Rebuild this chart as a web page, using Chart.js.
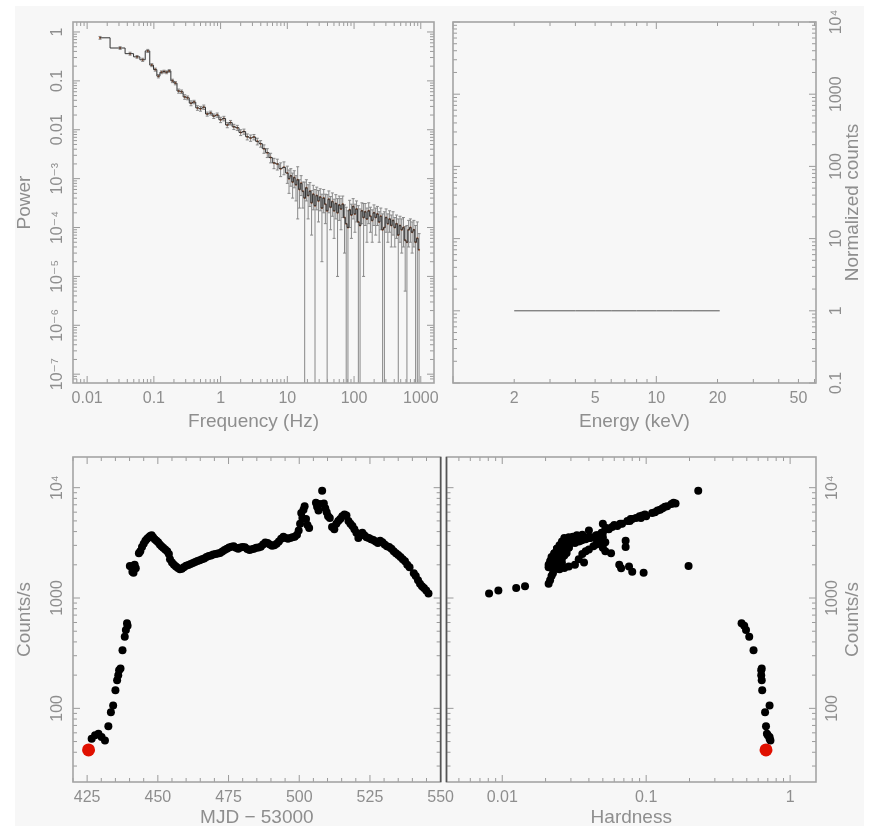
<!DOCTYPE html>
<html>
<head>
<meta charset="utf-8">
<script src="https://cdn.jsdelivr.net/npm/chart.js@4.4.1/dist/chart.umd.min.js"></script>
<style>
  html, body { margin: 0; padding: 0; background: #fff; overflow: hidden; }
  #sheet { position: absolute; left: 15px; top: 6px; width: 849px; height: 820px; background: #f7f7f7; }
  canvas { position: absolute; }
</style>
</head>
<body>
<div id="sheet"></div>
<canvas id="pds" width="440" height="440" style="left:0;top:0"></canvas>
<canvas id="spec" width="430" height="440" style="left:440px;top:0"></canvas>
<canvas id="lc" width="460" height="400" style="left:0;top:440px"></canvas>
<canvas id="hid" width="430" height="400" style="left:440px;top:440px"></canvas>
<script>
// power spectrum (top left)
const freqHz = [
  0.0156, 0.0312, 0.044, 0.056, 0.068, 0.081, 0.093, 0.105, 0.117, 0.13,
  0.142, 0.155, 0.17, 0.19, 0.21, 0.235, 0.26, 0.29, 0.32, 0.36,
  0.40, 0.45, 0.50, 0.56, 0.63, 0.71, 0.79, 0.89, 1.0, 1.12,
  1.26, 1.41, 1.58, 1.78, 2.0, 2.24, 2.51, 2.82, 3.16, 3.55,
  3.98, 4.47, 5.01, 5.62, 6.31, 7.08, 7.94, 8.91,
  10.0, 10.6, 11.3, 12.0, 12.7, 13.5, 14.3, 15.2, 16.1, 17.1,
  18.2, 19.3, 20.5, 21.8, 23.1, 24.5, 26.0, 27.6, 29.3, 31.1,
  33.0, 35.1, 37.2, 39.5, 41.9, 44.5, 47.3, 50.2, 53.3, 56.6,
  60.1, 63.8, 67.7, 71.9, 76.3, 81.0, 86.0, 91.3, 97.0, 103,
  109, 116, 123, 131, 139, 147, 156, 166, 176, 187,
  199, 211, 224, 238, 252, 268, 285, 302, 321, 341,
  362, 384, 408, 433, 460, 488, 518, 550, 584, 620,
  658, 699, 742, 788, 837, 888, 943
];
const power = [
  0.76, 0.47, 0.36, 0.31, 0.27, 0.41, 0.21, 0.17, 0.125, 0.15,
  0.155, 0.15, 0.16, 0.10, 0.09, 0.062, 0.06, 0.047, 0.045, 0.035,
  0.037, 0.028, 0.027, 0.029, 0.021, 0.022, 0.019, 0.020, 0.016, 0.017,
  0.0125, 0.014, 0.0115, 0.011, 0.0088, 0.0092, 0.0072, 0.0068, 0.0071, 0.0058,
  0.0052, 0.0041, 0.0034, 0.0027, 0.0021, 0.0020, 0.0016, 0.0017,
  0.0013, 0.001, 0.00115, 0.00085, 0.00105, 0.00075, 0.00095, 0.0006, 0.0008, 0.00055,
  0.0004, 0.00065, 0.00045, 0.00055, 0.00032, 0.00048, 0.00028, 0.00045, 0.00035, 0.00042,
  0.00025, 0.0004, 0.0003, 0.00022, 0.00038, 0.00026, 0.00034, 0.00022, 0.00031, 0.0002,
  0.00029, 0.00024, 0.0003, 0.00016, 0.00012, 0.0001, 0.00023, 0.00018, 0.00027, 0.00019,
  0.00024, 0.00013, 0.00011, 0.00022, 0.00016, 0.00021, 0.00015, 0.00022, 0.00017, 0.00014,
  0.0002, 0.00016, 0.00019, 0.00013, 0.00017, 0.00009, 0.0001, 0.00016, 0.00012, 0.00015,
  0.00011, 0.00014, 0.0001, 0.00012, 0.00007, 0.00011, 0.00009, 0.0001, 0.000055, 0.00005,
  0.00009, 0.0001, 0.00008, 0.00009, 0.00005, 0.00006, 0.000035
];
const powerErr = [
  0.05, 0.03, 0.025, 0.02, 0.02, 0.03, 0.015, 0.012, 0.01, 0.01,
  0.01, 0.01, 0.01, 0.008, 0.007, 0.006, 0.005, 0.005, 0.004, 0.004,
  0.003, 0.003, 0.003, 0.003, 0.002, 0.002, 0.002, 0.002, 0.002, 0.0018,
  0.0015, 0.0015, 0.0014, 0.0013, 0.0012, 0.0011, 0.001, 0.001, 0.0009, 0.0009,
  0.0008, 0.0008, 0.0007, 0.0006, 0.0005, 0.0005, 0.0005, 0.0005,
  0.0005, 0.0005, 0.00045, 0.00045, 0.0004, 0.0004, 0.0008, 0.00035, 0.00035, 0.0003,
  0.00045, 0.0003, 0.0003, 0.00028, 0.00025, 0.00025, 0.00032, 0.00022, 0.00022, 0.0002,
  0.00023, 0.0002, 0.00018, 0.00025, 0.00018, 0.00017, 0.00017, 0.00016, 0.00016, 0.00019,
  0.00015, 0.00015, 0.00014, 0.00013, 0.00014, 0.00012, 0.00013, 0.00012, 0.00012, 0.00011,
  0.00011, 0.00015, 0.00013, 0.0001, 0.00015, 0.0001, 0.0001, 0.0001, 0.00009, 0.00009,
  0.00009, 0.00009, 0.00008, 0.00008, 0.00008, 0.0001, 0.00011, 0.00008, 0.00007, 0.00007,
  0.00007, 0.00007, 0.00006, 0.00006, 0.00008, 0.00006, 0.00006, 0.00006, 0.00005, 0.00006,
  0.00005, 0.00005, 0.00005, 0.00005, 0.00006, 0.00007, 0.00004
];
const freqTicks = [0.01, 0.1, 1, 10, 100, 1000];
const freqTickLabels = ['0.01', '0.1', '1', '10', '100', '1000'];
const powerTicks = [1, 0.1, 0.01, 1e-3, 1e-4, 1e-5, 1e-6, 1e-7];
const powerTickLabels = ['1', '0.1', '0.01', '10⁻³', '10⁻⁴', '10⁻⁵', '10⁻⁶', '10⁻⁷'];

// energy spectrum (top right)
const energyKeV = [2, 3, 4, 5, 6, 8, 10, 12, 15, 20.5];
const normCounts = [1, 1, 1, 1, 1, 1, 1, 1, 1, 1];
const energyTicks = [2, 5, 10, 20, 50];
const energyTickLabels = ['2', '5', '10', '20', '50'];
const normTicks = [0.1, 1, 10, 100, 1000, 1e4];
const normTickLabels = ['0.1', '1', '10', '100', '1000', '10⁴'];

// light curve + hardness-intensity (bottom)
const mjd = [
  426.6, 427.8, 429.0, 430.1, 431.3, 432.5, 433.4, 434.2, 435.0, 435.6,
  436.0, 436.3, 436.8, 437.5, 438.3, 438.7, 439.1, 439.3, 440.1, 440.6,
  441.0, 441.4, 441.8, 442.2, 443.3, 443.8, 444.4, 445.0, 445.6, 446.2,
  446.8, 447.3, 447.8, 448.3, 448.9, 449.5, 450.1, 450.7, 451.3, 451.9,
  452.6, 453.3, 453.9, 454.3, 455.0, 455.7, 456.4, 457.1, 457.8, 458.5,
  459.2, 460.0, 460.8, 461.6, 462.4, 463.2, 464.0, 464.8, 465.6, 466.4,
  467.2, 468.0, 468.8, 469.6, 470.4, 471.2, 472.0, 472.8, 473.6, 474.4,
  475.2, 476.0, 476.8, 477.6, 478.4, 479.2, 480.0, 480.8, 481.6, 482.4,
  483.2, 484.0, 484.8, 485.6, 486.4, 487.2, 488.0, 488.8, 489.6, 490.4,
  491.2, 492.0, 492.8, 493.6, 494.4, 495.2, 496.0, 496.8, 497.6, 498.4,
  499.2, 499.8, 500.3, 500.7, 501.1, 501.5, 501.9, 502.4, 502.9, 503.5,
  505.9, 506.3, 506.8, 507.3, 508.1, 508.7, 509.2, 509.7, 510.2, 510.8,
  511.6, 512.4, 513.1, 513.8, 514.5, 515.2, 516.0, 516.7, 517.4, 518.1,
  518.8, 519.5, 520.2, 520.9, 521.6, 522.3, 523.0, 523.8, 524.6, 525.4,
  526.2, 527.0, 527.8, 528.6, 529.4, 530.2, 531.0, 531.8, 532.6, 533.4,
  534.2, 535.0, 535.8, 536.6, 537.4, 538.2, 539.0, 540.5, 541.2, 542.0,
  542.7, 543.4, 544.1, 544.9, 545.7
];
const rate = [
  53, 57, 59, 55, 51, 69, 92, 106, 146, 180,
  200, 221, 230, 336, 445, 512, 590, 560, 1950, 1930,
  1730, 1690, 2000, 1860, 2550, 2650, 2900, 3100, 3300, 3450,
  3550, 3650, 3700, 3550, 3400, 3300, 3200, 3050, 2950, 2850,
  2750, 2650, 2500, 2250, 2100, 2000, 1930, 1870, 1820, 1840,
  1900, 1960, 1990, 2030, 2080, 2120, 2170, 2200, 2250, 2280,
  2350, 2400, 2430, 2480, 2500, 2530, 2560, 2640, 2720, 2800,
  2870, 2920, 2950, 2850, 2800, 2870, 2900, 2880, 2780, 2730,
  2760, 2800, 2850, 2870, 2920, 3050, 3180, 3150, 3050, 2980,
  3000, 3100, 3250, 3450, 3600, 3500, 3450, 3500, 3550, 3600,
  3750, 4100, 4700, 5900, 5300, 6300, 6800, 5200, 4600, 4300,
  7300, 6700, 6200, 7100, 9400, 7200, 6500, 6000, 5500, 5300,
  4400, 4200, 4700, 5000, 5200, 5500, 5700, 5600, 5000, 4700,
  4500, 4200, 3900, 3500, 3700, 3900, 3700, 3550, 3500, 3400,
  3350, 3250, 3150, 3300, 3200, 3050, 2950, 2900, 2800, 2650,
  2550, 2450, 2350, 2250, 2150, 2000, 1900, 1680, 1580, 1450,
  1350, 1280, 1230, 1170, 1100
];
const hardness = [
  0.72, 0.70, 0.69, 0.72, 0.73, 0.68, 0.67, 0.72, 0.64, 0.635,
  0.63, 0.63, 0.635, 0.557, 0.52, 0.494, 0.46, 0.48, 0.197, 0.076,
  0.080, 0.096, 0.065, 0.067, 0.057, 0.052, 0.072, 0.048, 0.072, 0.045,
  0.040, 0.036, 0.033, 0.050, 0.048, 0.046, 0.052, 0.045, 0.043, 0.050,
  0.040, 0.038, 0.036, 0.034, 0.037, 0.032, 0.029, 0.027, 0.025, 0.024,
  0.023, 0.025, 0.022, 0.024, 0.026, 0.023, 0.025, 0.022, 0.024, 0.026,
  0.023, 0.025, 0.027, 0.024, 0.026, 0.023, 0.028, 0.025, 0.027, 0.024,
  0.026, 0.028, 0.025, 0.027, 0.024, 0.029, 0.026, 0.028, 0.025, 0.027,
  0.024, 0.026, 0.029, 0.027, 0.025, 0.028, 0.030, 0.026, 0.029, 0.027,
  0.025, 0.028, 0.026, 0.029, 0.031, 0.027, 0.030, 0.033, 0.029, 0.035,
  0.036, 0.040, 0.050, 0.11, 0.085, 0.125, 0.14, 0.078, 0.060, 0.053,
  0.155, 0.135, 0.12, 0.15, 0.23, 0.16, 0.13, 0.115, 0.10, 0.092,
  0.058, 0.052, 0.066, 0.074, 0.080, 0.090, 0.098, 0.094, 0.077, 0.068,
  0.063, 0.055, 0.049, 0.041, 0.045, 0.050, 0.046, 0.042, 0.040, 0.038,
  0.036, 0.034, 0.032, 0.035, 0.031, 0.029, 0.027, 0.026, 0.025, 0.024,
  0.023, 0.023, 0.022, 0.022, 0.0215, 0.021, 0.021, 0.0225, 0.022, 0.0215,
  0.021, 0.0144, 0.0125, 0.0094, 0.0081
];
// first observation, drawn in red
const markerMjd = [425.5];
const markerRate = [42];
const markerHardness = [0.68];

const mjdTicks = [425, 450, 475, 500, 525, 550];
const mjdTickLabels = ['425', '450', '475', '500', '525', '550'];
const rateTicks = [100, 1000, 1e4];
const rateTickLabels = ['100', '1000', '10⁴'];
const hardTicks = [0.01, 0.1, 1];
const hardTickLabels = ['0.01', '0.1', '1'];

const FONT = "'Liberation Sans', 'DejaVu Sans', sans-serif";
const TEXT = '#8e8e8e';
const tickFont = {family: FONT, size: 16};
const titleFont = {family: FONT, size: 19};

const measureCtx = document.createElement('canvas').getContext('2d');
const halfWidest = (labels) => {
    measureCtx.font = tickFont.size + 'px ' + FONT;
    return Math.max(...labels.map(l => measureCtx.measureText(l).width)) / 2;
}

const pickLabel = (values, labels, log) => (v) => {
    for (let i = 0; i < values.length; i++) {
        if (log ? Math.abs(Math.log10(v / values[i])) < 1e-6 : v === values[i]) return labels[i];
    }
    return '';
}

const toPoints = (xs, ys) => xs.map((x, i) => ({x: x, y: ys[i]}));

// inward tick marks on all four sides + frame
const frameTicks = {
    id: 'frameTicks',
    afterDraw: (chart, args, opts) => {
        const ctx = chart.ctx;
        const a = chart.chartArea;
        ctx.save();
        ctx.strokeStyle = '#9a9a9a';
        ctx.lineWidth = 1;
        Object.values(chart.scales).forEach(scale => {
            scale.ticks.forEach(t => {
                const v = t.value;
                let major;
                if (scale.type === 'logarithmic') {
                    const e = Math.floor(Math.log10(v) + 1e-9);
                    const m = v / Math.pow(10, e);
                    if (Math.abs(m - Math.round(m)) > 0.01) return;
                    major = Math.abs(m - 1) < 0.01 || Math.abs(m - 10) < 0.01;
                } else {
                    major = v % 25 === 0;
                }
                const p = scale.getPixelForValue(v);
                const len = major ? 7 : 4;
                ctx.beginPath();
                if (scale.isHorizontal()) {
                    if (p < a.left - 0.5 || p > a.right + 0.5) return;
                    ctx.moveTo(p, a.bottom); ctx.lineTo(p, a.bottom - len);
                    ctx.moveTo(p, a.top); ctx.lineTo(p, a.top + len);
                } else {
                    if (p < a.top - 0.5 || p > a.bottom + 0.5) return;
                    ctx.moveTo(a.left, p); ctx.lineTo(a.left + len, p);
                    ctx.moveTo(a.right, p); ctx.lineTo(a.right - len, p);
                }
                ctx.stroke();
            })
        })
        ctx.lineWidth = 1.6;
        ctx.strokeStyle = '#a4a4a4';
        ctx.strokeRect(a.left, a.top, a.width, a.height);
        if (opts.darkEdge) {
            const x = opts.darkEdge === 'right' ? a.right : a.left;
            ctx.strokeStyle = '#555';
            ctx.beginPath(); ctx.moveTo(x, a.top); ctx.lineTo(x, a.bottom); ctx.stroke();
        }
        ctx.restore();
    }
}

// vertical error bars for the power spectrum
const errorBars = {
    id: 'errorBars',
    beforeDatasetsDraw: (chart, args, opts) => {
        if (!opts.err) return;
        const ctx = chart.ctx;
        const a = chart.chartArea;
        const xs = chart.scales.x, ys = chart.scales.y;
        ctx.save();
        ctx.beginPath(); ctx.rect(a.left, a.top, a.width, a.height); ctx.clip();
        ctx.strokeStyle = '#888';
        ctx.lineWidth = 1;
        opts.x.forEach((f, i) => {
            const px = xs.getPixelForValue(f);
            const hi = ys.getPixelForValue(opts.y[i] + opts.err[i]);
            const low = opts.y[i] - opts.err[i];
            const lo = low > 0 ? ys.getPixelForValue(low) : a.bottom + 2;
            ctx.beginPath();
            ctx.moveTo(px, hi); ctx.lineTo(px, lo);
            ctx.moveTo(px - 1.5, hi); ctx.lineTo(px + 1.5, hi);
            if (low > 0) { ctx.moveTo(px - 1.5, lo); ctx.lineTo(px + 1.5, lo); }
            ctx.stroke();
        })
        ctx.restore();
    }
}

// right-hand axis title reading bottom to top
const sideTitle = {
    id: 'sideTitle',
    afterDraw: (chart, args, opts) => {
        if (!opts.text) return;
        const ctx = chart.ctx;
        const a = chart.chartArea;
        ctx.save();
        ctx.translate(opts.x, (a.top + a.bottom) / 2);
        ctx.rotate(-Math.PI / 2);
        ctx.font = titleFont.size + 'px ' + FONT;
        ctx.fillStyle = TEXT;
        ctx.textAlign = 'center';
        ctx.textBaseline = 'middle';
        ctx.fillText(opts.text, 0, 0);
        ctx.restore();
    }
}

const xAxis = (type, min, max, values, labels, title, height, titlePad, extra = {}) => ({
    type: type, position: 'bottom', min: min, max: max,
    grid: {display: false, drawTicks: false},
    border: {display: false},
    ticks: {
        autoSkip: false, maxRotation: 0, minRotation: 0, padding: 6,
        font: tickFont, color: TEXT,
        callback: pickLabel(values, labels, type === 'logarithmic'),
        ...extra
    },
    title: {display: true, text: title, font: titleFont, color: TEXT, padding: {top: 0, bottom: titlePad}},
    afterFit: (s) => { s.height = height }
})

const yAxis = (position, min, max, values, labels, width, labelDist, title) => ({
    type: 'logarithmic', position: position, min: min, max: max,
    grid: {display: false, drawTicks: false},
    border: {display: false},
    ticks: {
        autoSkip: false, minRotation: 90, maxRotation: 90, crossAlign: 'center',
        padding: labelDist - halfWidest(labels),
        font: tickFont, color: TEXT,
        callback: pickLabel(values, labels, true)
    },
    title: title ? {display: true, text: title, font: titleFont, color: TEXT, padding: {top: 13.6, bottom: 0}} : {display: false},
    afterFit: (s) => { s.width = width }
})

const baseOptions = (padding, scales, pluginOpts) => ({
    animation: false,
    responsive: false,
    devicePixelRatio: 1,
    layout: {padding: padding},
    plugins: {legend: {display: false}, tooltip: {enabled: false}, ...pluginOpts},
    scales: scales
})

const pdsPoints = toPoints(freqHz, power);
new Chart(document.getElementById('pds'), {
    type: 'line',
    data: {
        datasets: [{
            data: pdsPoints, stepped: 'middle', borderColor: '#333',
            borderWidth: 1, pointRadius: 0, fill: false
        }, {
            data: pdsPoints, showLine: false, pointRadius: 1,
            pointBackgroundColor: '#a0522d', pointBorderWidth: 0
        }]
    },
    options: baseOptions({top: 22, right: 4, left: 0, bottom: 0}, {
        x: xAxis('logarithmic', 0.00614, 1578, freqTicks, freqTickLabels, 'Frequency (Hz)', 57, 6.6),
        y: yAxis('left', 6.6e-8, 1.6, powerTicks, powerTickLabels, 73, 15, 'Power')
    }, {errorBars: {x: freqHz, y: power, err: powerErr}}),
    plugins: [errorBars, frameTicks]
})

new Chart(document.getElementById('spec'), {
    type: 'line',
    data: {
        datasets: [{
            data: toPoints(energyKeV, normCounts), borderColor: '#555',
            borderWidth: 1, pointRadius: 0, fill: false
        }]
    },
    options: baseOptions({top: 22, right: 0, left: 13, bottom: 0}, {
        x: xAxis('logarithmic', 1, 61, energyTicks, energyTickLabels, 'Energy (keV)', 57, 6.6),
        y: yAxis('right', 0.1, 1e4, normTicks, normTickLabels, 54, 21, null)
    }, {sideTitle: {text: 'Normalized counts', x: 413}}),
    plugins: [frameTicks, sideTitle]
})

new Chart(document.getElementById('lc'), {
    type: 'scatter',
    data: {
        datasets: [{
            data: toPoints(markerMjd, markerRate), pointRadius: 6.5,
            pointBackgroundColor: '#e01000', pointBorderWidth: 0
        }, {
            data: toPoints(mjd, rate), pointRadius: 4,
            pointBackgroundColor: '#000', pointBorderWidth: 0
        }]
    },
    options: baseOptions({top: 17, right: 15, left: 0, bottom: 0}, {
        x: xAxis('linear', 420, 550, mjdTicks, mjdTickLabels, 'MJD − 53000', 58, 10.6, {stepSize: 5}),
        y: yAxis('left', 21.5, 18970, rateTicks, rateTickLabels, 73, 15, 'Counts/s')
    }, {frameTicks: {darkEdge: 'right'}}),
    plugins: [frameTicks]
})

new Chart(document.getElementById('hid'), {
    type: 'scatter',
    data: {
        datasets: [{
            data: toPoints(markerHardness, markerRate), pointRadius: 6.5,
            pointBackgroundColor: '#e01000', pointBorderWidth: 0
        }, {
            data: toPoints(hardness, rate), pointRadius: 4,
            pointBackgroundColor: '#000', pointBorderWidth: 0
        }]
    },
    options: baseOptions({top: 17, right: 0, left: 5, bottom: 0}, {
        x: xAxis('logarithmic', 0.0041, 1.513, hardTicks, hardTickLabels, 'Hardness', 58, 10.6),
        y: yAxis('right', 21.5, 18970, rateTicks, rateTickLabels, 54, 17, null)
    }, {frameTicks: {darkEdge: 'left'}, sideTitle: {text: 'Counts/s', x: 413}}),
    plugins: [frameTicks, sideTitle]
})
</script>
</body>
</html>
